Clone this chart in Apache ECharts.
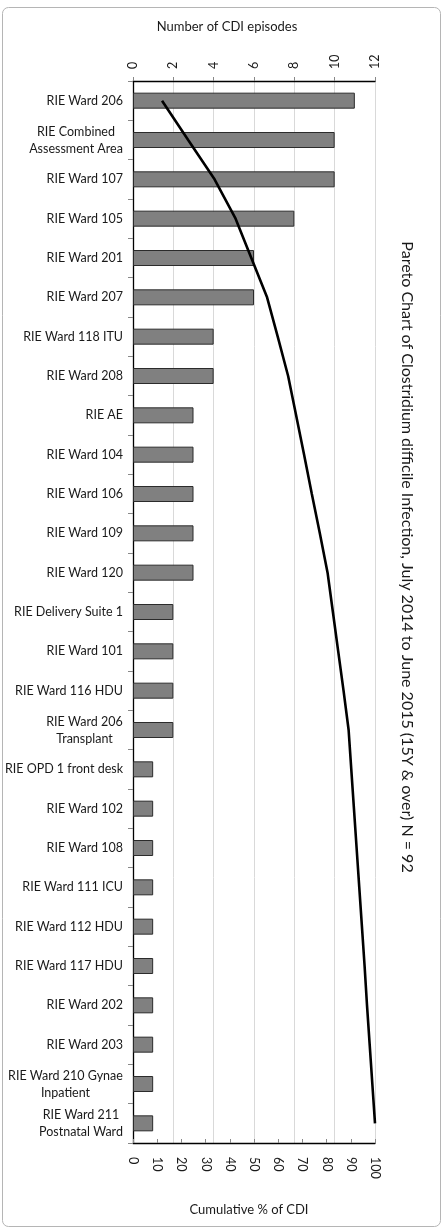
<!DOCTYPE html>
<html>
<head>
<meta charset="utf-8">
<script src="https://cdn.jsdelivr.net/npm/echarts@6/dist/echarts.min.js"></script>
<style>
  html, body { margin: 0; padding: 0; background: #fff; }
  #chart { width: 443px; height: 1229px; }
</style>
</head>
<body>
<div id="chart"></div>
<script>
// wards, in pareto order (a "\n" marks where the label wraps)
var wards = [
  'RIE Ward 206', 'RIE Combined\nAssessment Area', 'RIE Ward 107', 'RIE Ward 105',
  'RIE Ward 201', 'RIE Ward 207', 'RIE Ward 118 ITU', 'RIE Ward 208', 'RIE AE',
  'RIE Ward 104', 'RIE Ward 106', 'RIE Ward 109', 'RIE Ward 120',
  'RIE Delivery Suite 1', 'RIE Ward 101', 'RIE Ward 116 HDU', 'RIE Ward 206\nTransplant',
  'RIE OPD 1 front desk', 'RIE Ward 102', 'RIE Ward 108', 'RIE Ward 111 ICU',
  'RIE Ward 112 HDU', 'RIE Ward 117 HDU', 'RIE Ward 202', 'RIE Ward 203',
  'RIE Ward 210 Gynae\nInpatient', 'RIE Ward 211\nPostnatal Ward'
];
var episodes = [11, 10, 10, 8, 6, 6, 4, 4, 3, 3, 3, 3, 3, 2, 2, 2, 2, 1, 1, 1, 1, 1, 1, 1, 1, 1, 1];
var cumulativePct = [12.0, 22.8, 33.7, 42.4, 48.9, 55.4, 59.8, 64.1, 67.4, 70.7, 73.9, 77.2, 80.4,
  82.6, 84.8, 87.0, 89.1, 90.2, 91.3, 92.4, 93.5, 94.6, 95.7, 96.7, 97.8, 98.9, 100];
var episodeTicks = { min: 0, max: 12, step: 2 };
var pctTicks = { min: 0, max: 100, step: 10 };

var titleText = 'Pareto Chart of Clostridium difficile Infection, July 2014 to June 2015 (15Y & over) N = 92';
var font = 'Lato, "Open Sans", sans-serif';
var labelSize = 12.5;

// wrapped labels: centre each line inside the block, like Excel does
var ctx = document.createElement('canvas').getContext('2d');
ctx.font = labelSize + 'px ' + font;
var rich = {};
wards.forEach(function(w, i) {
  if (w.indexOf('\n') < 0) return;
  var widest = 0;
  w.split('\n').forEach(function(line) {
    widest = Math.max(widest, ctx.measureText(line).width);
  });
  rich['w' + i] = {
    width: Math.ceil(widest), align: 'center',
    fontSize: labelSize, fontFamily: font, color: '#1a1a1a', lineHeight: 17
  };
});

var chart = echarts.init(document.getElementById('chart'));

chart.setOption({
  backgroundColor: '#fff',
  animation: false,
  textStyle: { fontFamily: font },
  grid: { left: 133, right: 68, top: 81, bottom: 86, containLabel: false },
  xAxis: [
    {
      type: 'value', position: 'top',
      min: episodeTicks.min, max: episodeTicks.max, interval: episodeTicks.step,
      axisLine: { show: true, lineStyle: { color: '#000', width: 1.3 } },
      axisTick: { show: true, length: 4, lineStyle: { color: '#888' } },
      splitLine: { show: true, lineStyle: { color: '#d9d9d9', width: 1 } },
      axisLabel: { rotate: -90, margin: 12, fontSize: 12.5, color: '#1a1a1a', fontFamily: font }
    },
    {
      type: 'value', position: 'bottom',
      min: pctTicks.min, max: pctTicks.max, interval: pctTicks.step,
      axisLine: { show: true, lineStyle: { color: '#000', width: 1.3 } },
      axisTick: { show: true, inside: true, length: 4, lineStyle: { color: '#888' } },
      splitLine: { show: false },
      axisLabel: { rotate: -90, margin: 14, fontSize: 12.5, color: '#1a1a1a', fontFamily: font }
    }
  ],
  yAxis: {
    type: 'category', inverse: true, data: wards,
    axisLine: { show: true, lineStyle: { color: '#000', width: 1.3 } },
    axisTick: { show: true, length: 5, lineStyle: { color: '#888' } },
    axisLabel: {
      margin: 10, fontSize: labelSize, color: '#1a1a1a', fontFamily: font, lineHeight: 17,
      formatter: function(value, index) {
        if (value.indexOf('\n') < 0) return value;
        return value.split('\n').map(function(line) {
          return '{w' + index + '|' + line + '}';
        }).join('\n');
      },
      rich: rich
    }
  },
  series: [
    {
      name: 'Number of CDI episodes', type: 'bar',
      xAxisIndex: 0, data: episodes, barWidth: 16,
      itemStyle: { color: '#808080', borderColor: '#2b2b2b', borderWidth: 1 }
    },
    {
      name: 'Cumulative % of CDI', type: 'line',
      xAxisIndex: 1, data: cumulativePct,
      showSymbol: false, symbol: 'none',
      lineStyle: { color: '#000', width: 2.6 }
    }
  ],
  graphic: [
    {
      type: 'rect', z: -1,
      shape: { x: 2.5, y: 7.5, width: 438, height: 1219, r: 6 },
      style: { fill: 'none', stroke: '#b5b5b5', lineWidth: 1 }
    },
    {
      type: 'text', x: 227, y: 27,
      style: { text: 'Number of CDI episodes', font: '13px ' + font, fill: '#1a1a1a',
        textAlign: 'center', textVerticalAlign: 'middle' }
    },
    {
      type: 'text', x: 249, y: 1210,
      style: { text: 'Cumulative % of CDI', font: '13px ' + font, fill: '#1a1a1a',
        textAlign: 'center', textVerticalAlign: 'middle' }
    },
    {
      type: 'text', x: 407, y: 557, rotation: -Math.PI / 2,
      style: { text: titleText, font: '16px ' + font, fill: '#1a1a1a',
        textAlign: 'center', textVerticalAlign: 'middle' }
    }
  ]
});
</script>
</body>
</html>
